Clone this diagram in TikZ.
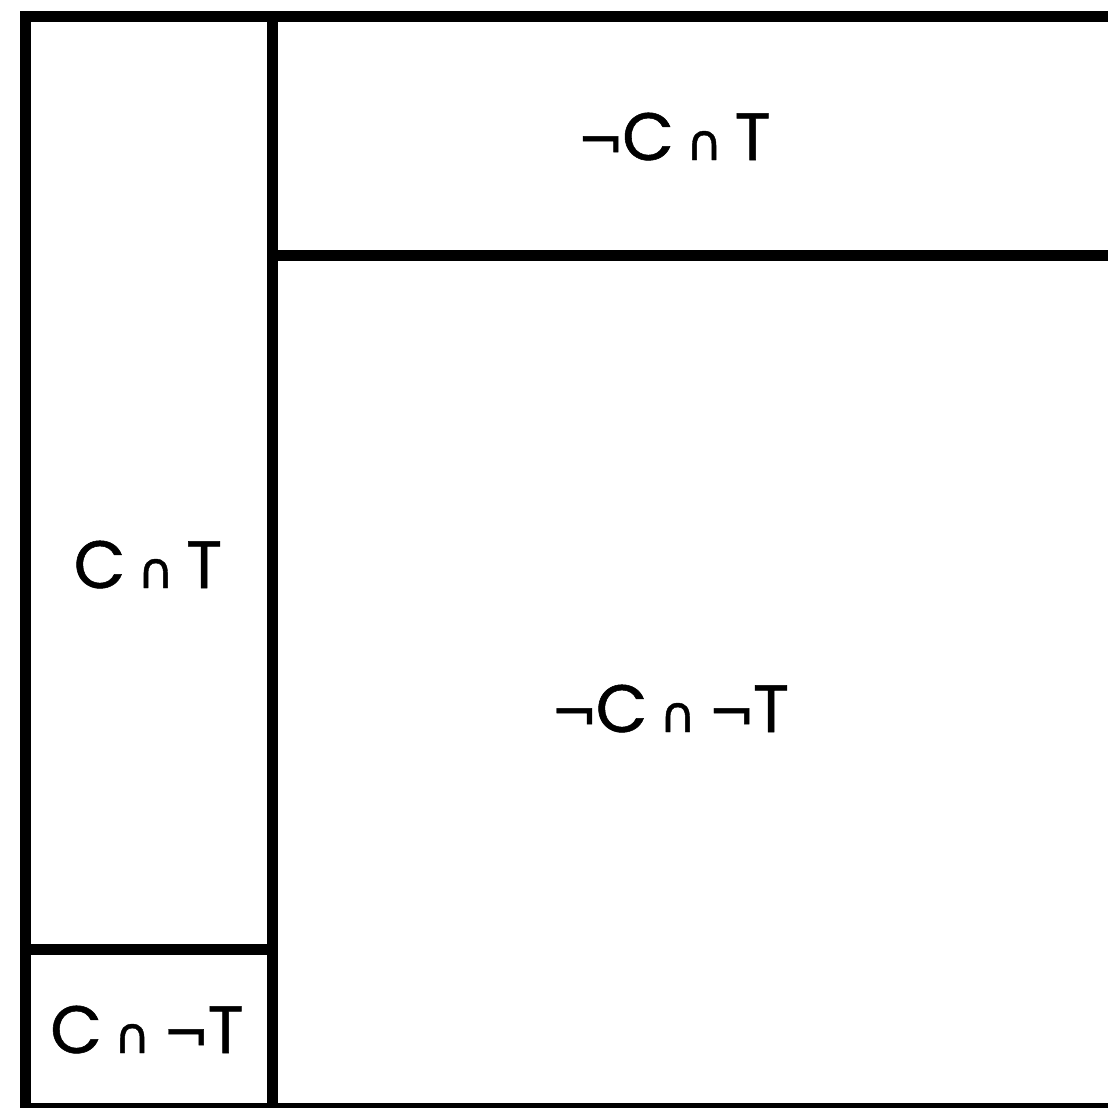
\documentclass[tikz,border=0pt]{standalone}
\usepackage{fontspec}
\setmainfont{Poppins}[FakeBold=0.8]
\newfontfamily\symfont{DejaVu Sans}[FakeBold=0.8]
\newcommand\capsym{\hspace{12pt}{\symfont\fontsize{50}{50}\selectfont ∩}\hspace{12pt}}
\newcommand\negsym{{\symfont\fontsize{56}{56}\selectfont ¬}\hspace{-2pt}}
\begin{document}
\begin{tikzpicture}[x=1pt,y=-1pt,
  wall/.style={line width=11pt, line join=miter},
  lbl/.style={font=\fontsize{67}{67}\selectfont, inner sep=0pt, anchor=base}]
\useasboundingbox (0,0) rectangle (1108,1108);
\coordinate (tl) at (25,16.5);
\coordinate (br) at (1113,1108);
\coordinate (vt) at (272,16.5);
\coordinate (vb) at (272,1108);
\coordinate (hl) at (272,255.5);
\coordinate (hr) at (1113,255.5);
\coordinate (sl) at (25,949.5);
\coordinate (sr) at (272,949.5);
\draw[wall] (tl) rectangle (br);
\draw[wall] (vt) -- (vb);
\draw[wall] (hl) -- (hr);
\draw[wall] (sl) -- (sr);
\node[lbl] (nct) at (674,160) {\negsym C\capsym T};
\node[lbl] (ct) at (148,588) {C\capsym T};
\node[lbl] (ncnt) at (670,732) {\negsym C\capsym\negsym T};
\node[lbl] (cnt) at (147,1053) {C\capsym\negsym T};
\end{tikzpicture}
\end{document}
